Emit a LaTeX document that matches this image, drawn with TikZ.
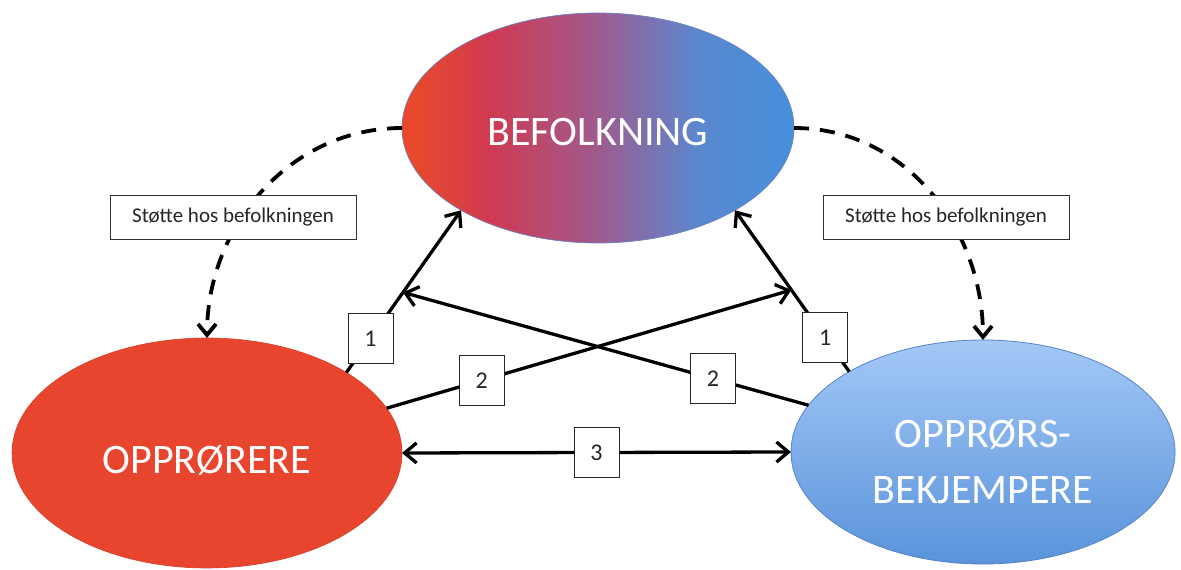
\documentclass[tikz,border=0pt]{standalone}
\usepackage{fontspec}
\setmainfont{Carlito}
\usetikzlibrary{shapes.geometric,arrows.meta,calc}
\definecolor{oprred}{RGB}{232,69,46}
\definecolor{bfa}{RGB}{233,72,45}
\definecolor{bfb}{RGB}{208,58,80}
\definecolor{bfc}{RGB}{163,88,138}
\definecolor{bfd}{RGB}{90,136,207}
\definecolor{bfe}{RGB}{70,144,219}
\definecolor{bkjtop}{RGB}{163,200,246}
\definecolor{bkjbot}{RGB}{90,147,219}
\definecolor{bkjline}{RGB}{84,132,200}
\definecolor{befline}{RGB}{110,130,190}
\pgfdeclarehorizontalshading{befshade}{100bp}{color(0bp)=(bfa); color(27bp)=(bfa); color(36bp)=(bfb); color(49bp)=(bfc); color(63bp)=(bfd); color(75bp)=(bfe); color(100bp)=(bfe)}
\begin{document}
\begin{tikzpicture}[x=1pt,y=1pt,
  ell/.style={ellipse, inner sep=0pt, outer sep=0pt},
  bigtext/.style={text=white, font=\fontsize{42}{56}\selectfont, align=center, inner sep=0pt},
  labelbox/.style={draw=black!80, line width=0.8pt, fill=white, minimum width=246pt, minimum height=44pt, inner sep=0pt, font=\fontsize{21}{25}\selectfont, text=black!85},
  numbox/.style={draw=black!85, line width=0.8pt, fill=white, minimum width=45pt, minimum height=50pt, inner sep=0pt, font=\fontsize{24}{28}\selectfont, text=black!85},
  conn/.style={line width=3.3pt, black},
  arr/.style={-{Straight Barb[length=12pt,width=20pt]}},
  dblarr/.style={{Straight Barb[length=12pt,width=20pt]}-{Straight Barb[length=12pt,width=20pt]}},
  dasharc/.style={line width=3.8pt, dash pattern=on 15pt off 11pt, -{Straight Barb[length=11pt,width=18pt]}}
]
\useasboundingbox (0,0) rectangle (1181,570);
\fill[white] (0,0) rectangle (1181,570);

% ellipses
\node[ell, minimum width=392pt, minimum height=230pt, shade, shading=befshade, draw=befline, line width=0.7pt] (top) at (598,442) {};
\node[ell, minimum width=390pt, minimum height=230pt, fill=oprred, draw=oprred!92!black, line width=0.6pt] (left) at (207,117) {};
\node[ell, minimum width=384pt, minimum height=224pt, top color=bkjtop, bottom color=bkjbot, draw=bkjline, line width=0.8pt] (right) at (983,118) {};

% ellipse texts
\node[bigtext] (tbef) at (598,438) {BEFOLKNING};
\node[bigtext] (topr) at (207,110) {OPPRØRERE};
\node[bigtext] (tbkj) at (983,108) {OPPRØRS-\\BEKJEMPERE};

% dashed arcs
\draw[dasharc] (top.west) to[out=180,in=90] (left.north);
\draw[dasharc] (top.east) to[out=0,in=90] (right.north);
\node[labelbox] (sl) at (233,353) {Støtte hos befolkningen};
\node[labelbox] (sr) at (946,353) {Støtte hos befolkningen};

% solid connectors
\coordinate (m1l) at ($(left.30)!0.494!(top.211)$);
\coordinate (m1r) at ($(right.149)!0.506!(top.329)$);
\draw[conn, arr] (left.30) -- node[numbox, pos=0.21] (n1l) {1} (top.211);
\draw[conn, arr] (right.149) -- node[numbox, pos=0.21] (n1r) {1} (top.329);
\draw[conn, arr] (left.14) -- node[numbox, pos=0.235] (n2l) {2} (m1r);
\draw[conn, arr] (right.165) -- node[numbox, pos=0.236] (n2r) {2} (m1l);
\draw[conn, dblarr] (left.east) -- node[numbox] (n3) {3} (right.west);
\end{tikzpicture}
\end{document}
